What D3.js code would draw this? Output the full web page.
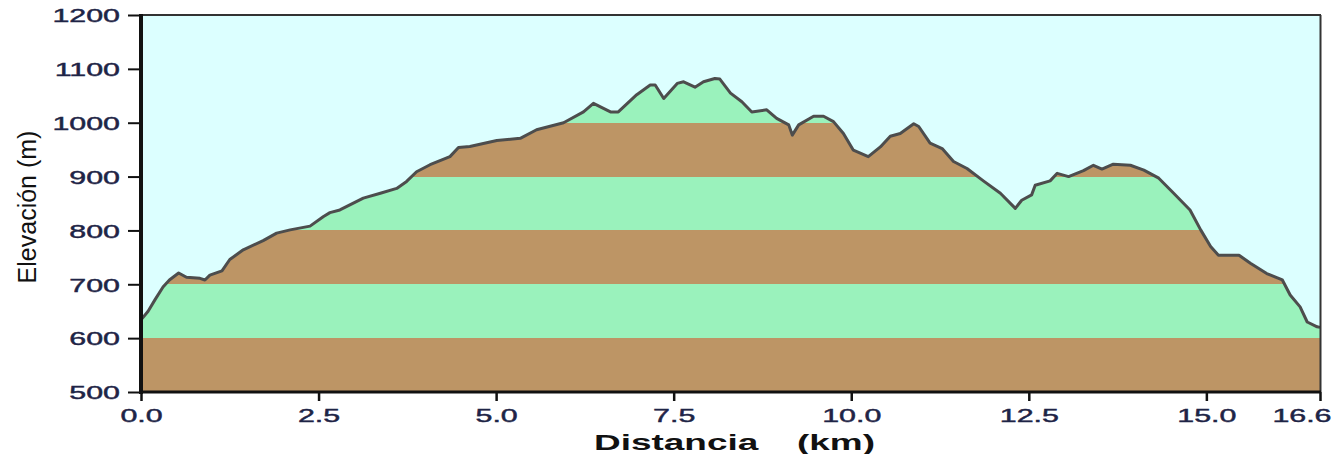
<!DOCTYPE html>
<html>
<head>
<meta charset="utf-8">
<script src="https://cdn.jsdelivr.net/npm/d3@7"></script>
<style>
  html, body { margin: 0; padding: 0; background: #ffffff; }
  svg { display: block; }
</style>
</head>
<body>
<svg id="chart" width="1332" height="454"></svg>
<script>
// ---- data ----
const distanceKm = [0.00, 0.10, 0.20, 0.31, 0.40, 0.46, 0.53, 0.64, 0.83, 0.90, 0.97, 1.14, 1.25, 1.44, 1.72, 1.91,
  2.10, 2.38, 2.57, 2.66, 2.80, 3.13, 3.37, 3.60, 3.74, 3.88, 4.07, 4.35, 4.47, 4.63, 5.01, 5.34, 5.57, 5.95,
  6.23, 6.37, 6.61, 6.72, 6.98, 7.17, 7.24, 7.36, 7.55, 7.64, 7.80, 7.92, 8.08, 8.15, 8.30, 8.46, 8.60, 8.81,
  8.95, 9.12, 9.17, 9.26, 9.47, 9.61, 9.75, 9.89, 10.03, 10.24, 10.41, 10.55, 10.69, 10.88, 10.95, 11.11, 11.28,
  11.44, 11.63, 11.86, 12.10, 12.31, 12.40, 12.54, 12.59, 12.80, 12.90, 13.06, 13.27, 13.41, 13.53, 13.69, 13.93,
  14.12, 14.33, 14.54, 14.77, 14.92, 15.06, 15.17, 15.46, 15.62, 15.85, 16.07, 16.18, 16.32, 16.42, 16.56, 16.60];
const elevationM = [634, 650, 672, 695, 708, 714, 721, 713, 711, 708, 717, 725, 746, 764, 781, 795,
  801, 808, 826, 833, 838, 860, 869, 878, 891, 909, 922, 937, 954, 956, 967, 971, 987, 1000,
  1020, 1036, 1020, 1020, 1052, 1070, 1070, 1045, 1073, 1076, 1066, 1076, 1082, 1081, 1055, 1039, 1020, 1024,
  1008, 996, 977, 996, 1012, 1012, 1002, 980, 949, 937, 955, 975, 980, 998, 993, 962, 952,
  928, 915, 892, 869, 841, 856, 866, 884, 892, 906, 900, 911, 921, 914, 923, 921,
  912, 897, 869, 838, 801, 770, 754, 754, 739, 720, 708, 680, 658, 630, 621, 620];
const bandEdges = [500, 600, 700, 800, 900, 1000, 1100, 1200];
const yTicks = [500, 600, 700, 800, 900, 1000, 1100, 1200];
const xTicks = [0, 2.5, 5, 7.5, 10, 12.5, 15, 16.6];
const xTickLabels = ["0.0", "2.5", "5.0", "7.5", "10.0", "12.5", "15.0", "16.6"];
const xTitle = "Distancia";
const xUnit = "(km)";
const yTitle = "Elevación (m)";

// ---- layout ----
const svg = d3.select("#chart");
const X0 = 141, X1 = 1320, Y0 = 392, Y1 = 15;
const x = d3.scaleLinear().domain([0, 16.6]).range([X0, X1]);
const y = d3.scaleLinear().domain([500, 1200]).range([Y0, Y1]);
const brown = "#bd9565", green = "#9af2bc", sky = "#dcffff";
const textCol = "#1e2446";
const pts = distanceKm.map((d, i) => [d, elevationM[i]]);

// sky background
svg.append("rect").attr("x", X0).attr("y", Y1).attr("width", X1 - X0).attr("height", Y0 - Y1).attr("fill", sky);

// clip under the profile
const area = d3.area().x(d => x(d[0])).y0(y(500)).y1(d => y(d[1]));
svg.append("clipPath").attr("id", "under").append("path").attr("d", area(pts));

const bands = bandEdges.slice(0, -1).map((lo, i) => ({ lo, hi: bandEdges[i + 1], c: i % 2 === 0 ? brown : green }));
svg.append("g").attr("clip-path", "url(#under)")
  .selectAll("rect").data(bands).join("rect")
  .attr("x", X0).attr("width", X1 - X0)
  .attr("y", d => y(d.hi)).attr("height", d => y(d.lo) - y(d.hi))
  .attr("fill", d => d.c).attr("shape-rendering", "crispEdges");

// profile line
svg.append("path").attr("d", d3.line().x(d => x(d[0])).y(d => y(d[1]))(pts))
  .attr("fill", "none").attr("stroke", "#4d4d4d").attr("stroke-width", 3).attr("stroke-linejoin", "round");

// frame: top and right
svg.append("line").attr("x1", X0).attr("x2", X1 + 1).attr("y1", Y1).attr("y2", Y1).attr("stroke", "#333").attr("stroke-width", 2);
svg.append("line").attr("x1", X1 + 0.5).attr("x2", X1 + 0.5).attr("y1", Y1).attr("y2", Y0).attr("stroke", "#333").attr("stroke-width", 2);

// y axis
const sx = 1.6;
const gy = svg.append("g").attr("transform", `translate(${X0},0)`)
  .call(d3.axisLeft(y).tickValues(yTicks).tickSize(13).tickPadding(0).tickFormat(d3.format("d")));
gy.select(".domain").remove();
gy.selectAll(".tick line").attr("stroke", "#111").attr("stroke-width", 2);
gy.selectAll(".tick text").attr("x", -21 / sx).attr("dy", "0.36em")
  .attr("transform", `scale(${sx},1)`)
  .attr("fill", textCol).attr("stroke", textCol).attr("stroke-width", 0.45)
  .attr("font-family", "Liberation Sans, Arial, sans-serif").attr("font-size", 19);
svg.append("line").attr("x1", X0).attr("x2", X0).attr("y1", Y1 - 1).attr("y2", Y0 + 2)
  .attr("stroke", "#111").attr("stroke-width", 4);

// x axis
const gx = svg.append("g").attr("transform", `translate(0,${Y0})`)
  .call(d3.axisBottom(x).tickValues(xTicks).tickSize(9).tickPadding(0).tickFormat((d, i) => xTickLabels[i]));
gx.select(".domain").remove();
gx.selectAll(".tick line").attr("stroke", "#111").attr("stroke-width", 2.5);
gx.selectAll(".tick text").attr("y", 30).attr("dy", 0)
  .attr("transform", `scale(${sx},1)`)
  .attr("fill", textCol).attr("stroke", textCol).attr("stroke-width", 0.45)
  .attr("font-family", "Liberation Sans, Arial, sans-serif").attr("font-size", 19);
// last label sits flush with the right edge of the picture
gx.selectAll(".tick text").filter((d, i) => i === xTicks.length - 1)
  .attr("text-anchor", "end").attr("x", 11 / sx);
svg.append("line").attr("x1", X0 - 2).attr("x2", X1 + 1).attr("y1", Y0).attr("y2", Y0)
  .attr("stroke", "#111").attr("stroke-width", 3);

// axis titles
const tsx = 1.68;
svg.append("text").attr("transform", `translate(594,450) scale(${tsx},1)`)
  .attr("font-family", "Liberation Sans, Arial, sans-serif").attr("font-weight", "bold").attr("font-size", 22)
  .attr("fill", "#111").text(xTitle);
svg.append("text").attr("transform", `translate(797,450) scale(${tsx},1)`)
  .attr("font-family", "Liberation Sans, Arial, sans-serif").attr("font-weight", "bold").attr("font-size", 22)
  .attr("fill", "#111").text(xUnit);
svg.append("text").attr("transform", "translate(36,207) rotate(-90)")
  .attr("text-anchor", "middle")
  .attr("font-family", "Liberation Sans, Arial, sans-serif").attr("font-size", 25)
  .attr("fill", "#111").text(yTitle);
</script>
</body>
</html>
